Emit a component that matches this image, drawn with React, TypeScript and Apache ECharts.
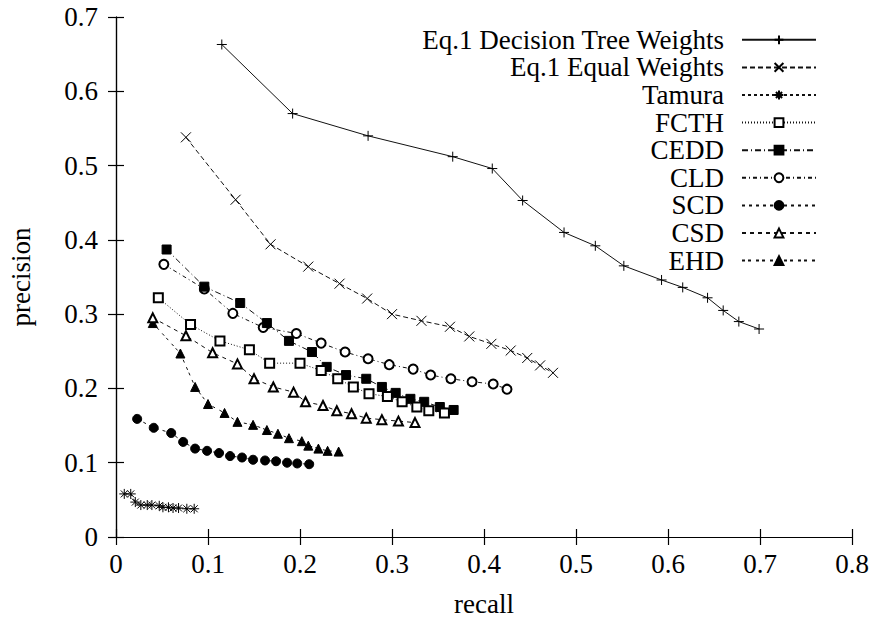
import React, { useEffect, useRef } from "react";
import * as echarts from "echarts";

const seriesNames = [
  "Eq.1 Decision Tree Weights",
  "Eq.1 Equal Weights",
  "Tamura",
  "FCTH",
  "CEDD",
  "CLD",
  "SCD",
  "CSD",
  "EHD",
];

const dtRecall = [0.115, 0.192, 0.274, 0.366, 0.409, 0.442, 0.487, 0.521, 0.552, 0.593, 0.616, 0.643, 0.66, 0.677, 0.699];
const dtPrecision = [0.663, 0.57, 0.54, 0.512, 0.496, 0.453, 0.41, 0.392, 0.365, 0.346, 0.336, 0.322, 0.305, 0.29, 0.28];

const eqRecall = [0.076, 0.13, 0.168, 0.209, 0.243, 0.273, 0.3, 0.332, 0.363, 0.384, 0.408, 0.429, 0.447, 0.461, 0.475];
const eqPrecision = [0.538, 0.454, 0.394, 0.364, 0.341, 0.321, 0.3, 0.291, 0.283, 0.27, 0.26, 0.251, 0.241, 0.231, 0.221];

const tamuraRecall = [0.009, 0.016, 0.021, 0.027, 0.034, 0.039, 0.047, 0.051, 0.057, 0.062, 0.068, 0.077, 0.085];
const tamuraPrecision = [0.058, 0.058, 0.047, 0.043, 0.043, 0.043, 0.042, 0.04, 0.04, 0.039, 0.039, 0.038, 0.038];

const fcthRecall = [0.046, 0.081, 0.113, 0.145, 0.167, 0.2, 0.223, 0.241, 0.258, 0.275, 0.295, 0.311, 0.327, 0.34, 0.357];
const fcthPrecision = [0.322, 0.286, 0.264, 0.252, 0.234, 0.234, 0.224, 0.213, 0.202, 0.193, 0.189, 0.182, 0.175, 0.17, 0.167];

const ceddRecall = [0.055, 0.096, 0.135, 0.164, 0.188, 0.213, 0.229, 0.25, 0.272, 0.289, 0.304, 0.32, 0.335, 0.352, 0.367];
const ceddPrecision = [0.387, 0.337, 0.315, 0.288, 0.264, 0.249, 0.229, 0.218, 0.213, 0.202, 0.194, 0.186, 0.182, 0.175, 0.171];

const cldRecall = [0.052, 0.096, 0.127, 0.16, 0.196, 0.223, 0.249, 0.274, 0.297, 0.323, 0.342, 0.364, 0.387, 0.41, 0.425];
const cldPrecision = [0.367, 0.334, 0.301, 0.282, 0.274, 0.261, 0.249, 0.24, 0.232, 0.226, 0.218, 0.213, 0.209, 0.206, 0.199];

const scdRecall = [0.023, 0.041, 0.06, 0.073, 0.086, 0.099, 0.112, 0.124, 0.137, 0.149, 0.162, 0.174, 0.186, 0.197, 0.21];
const scdPrecision = [0.159, 0.147, 0.14, 0.128, 0.119, 0.116, 0.113, 0.109, 0.107, 0.104, 0.103, 0.102, 0.1, 0.099, 0.098];

const csdRecall = [0.04, 0.076, 0.105, 0.132, 0.15, 0.171, 0.193, 0.206, 0.225, 0.24, 0.256, 0.272, 0.289, 0.307, 0.325];
const csdPrecision = [0.295, 0.271, 0.248, 0.233, 0.213, 0.202, 0.195, 0.182, 0.177, 0.17, 0.166, 0.16, 0.158, 0.156, 0.154];

const ehdRecall = [0.04, 0.07, 0.086, 0.1, 0.118, 0.132, 0.149, 0.164, 0.176, 0.188, 0.202, 0.209, 0.22, 0.23, 0.242];
const ehdPrecision = [0.288, 0.247, 0.202, 0.179, 0.167, 0.155, 0.151, 0.144, 0.139, 0.133, 0.129, 0.123, 0.119, 0.116, 0.115];

const xTicks = [0, 0.1, 0.2, 0.3, 0.4, 0.5, 0.6, 0.7, 0.8];
const yTicks = [0, 0.1, 0.2, 0.3, 0.4, 0.5, 0.6, 0.7];

const FONT = "Liberation Serif";
const FS = 27;

const PLUS = "path://M5,0V10M0,5H10";
const CROSS = "path://M0,0L10,10M10,0L0,10";
const STAR = "path://M5,0V10M0,5H10M1.5,1.5L8.5,8.5M8.5,1.5L1.5,8.5";

function pairs(xs: number[], ys: number[]) {
  return xs.map((x, i) => [x, ys[i]]);
}

type Spec = {
  x: number[];
  y: number[];
  symbol: string;
  size: number;
  dash: number[] | "solid";
  stroke: boolean;
};

const specs: Spec[] = [
  { x: dtRecall, y: dtPrecision, symbol: PLUS, size: 10, dash: "solid", stroke: true },
  { x: eqRecall, y: eqPrecision, symbol: CROSS, size: 10, dash: [5, 3], stroke: true },
  { x: tamuraRecall, y: tamuraPrecision, symbol: STAR, size: 10, dash: [3, 3], stroke: true },
  { x: fcthRecall, y: fcthPrecision, symbol: "emptyRect", size: 9, dash: [1, 2], stroke: false },
  { x: ceddRecall, y: ceddPrecision, symbol: "rect", size: 9, dash: [6, 3, 1, 3], stroke: false },
  { x: cldRecall, y: cldPrecision, symbol: "emptyCircle", size: 9, dash: [4, 3, 1, 3], stroke: false },
  { x: scdRecall, y: scdPrecision, symbol: "circle", size: 9, dash: [3, 4], stroke: false },
  { x: csdRecall, y: csdPrecision, symbol: "emptyTriangle", size: 9, dash: [4, 4], stroke: false },
  { x: ehdRecall, y: ehdPrecision, symbol: "triangle", size: 9, dash: [3, 3, 3, 5], stroke: false },
];

export default function App() {
  const ref = useRef<HTMLDivElement>(null);
  useEffect(() => {
    if (!ref.current) return;
    const chart = echarts.init(ref.current, undefined, { renderer: "svg" });
    const axisCommon = {
      type: "value" as const,
      splitLine: { show: false },
      axisLine: { show: true, lineStyle: { color: "#000", width: 1.2 } },
      axisTick: { show: true, inside: true, length: 8, lineStyle: { color: "#000", width: 1.2 } },
    };
    const series = specs.map((s, i) => ({
      type: "line",
      name: seriesNames[i],
      xAxisIndex: 0,
      yAxisIndex: 0,
      data: pairs(s.x, s.y),
      symbol: s.symbol,
      symbolSize: s.size,
      showAllSymbol: true,
      lineStyle: { color: "#111", width: 1, type: s.dash },
      itemStyle: s.stroke
        ? { color: "none", borderColor: "#000", borderWidth: 1 }
        : { color: "#000", borderColor: "#000", borderWidth: 1 },
      emphasis: { disabled: true },
      z: 10 - i,
    }));
    chart.setOption({
      animation: false,
      backgroundColor: "#fff",
      textStyle: { fontFamily: FONT },
      grid: {
        left: 116,
        right: 18,
        top: 17,
        bottom: 82,
        containLabel: false,
        outerBoundsMode: "none",
      },
      legend: {
        orient: "vertical",
        right: 53,
        top: 26,
        padding: 0,
        align: "right",
        itemGap: 0,
        itemWidth: 74,
        itemHeight: 11,
        selectedMode: false,
        data: seriesNames,
        textStyle: {
          fontFamily: FONT,
          fontSize: FS,
          color: "#000",
          lineHeight: 27.6,
          padding: [0, 13, 0, 0],
        },
      },
      xAxis: [
        {
          ...axisCommon,
          position: "bottom",
          min: 0,
          max: 0.8,
          interval: 0.1,
          name: "recall",
          nameLocation: "middle",
          nameGap: 54,
          nameTextStyle: { fontFamily: FONT, fontSize: FS, color: "#000", lineHeight: 26 },
          axisLabel: {
            fontFamily: FONT,
            fontSize: FS,
            color: "#000",
            margin: 13,
            formatter: (v: number) => {
              const t = xTicks.find((k) => Math.abs(k - v) < 1e-9);
              return t === undefined ? "" : String(t);
            },
          },
        },
        {
          ...axisCommon,
          position: "top",
          min: 0,
          max: 0.8,
          interval: 0.1,
          axisLabel: { show: false },
        },
      ],
      yAxis: [
        {
          ...axisCommon,
          position: "left",
          min: 0,
          max: 0.7,
          interval: 0.1,
          name: "precision",
          nameLocation: "middle",
          nameGap: 82,
          nameTextStyle: { fontFamily: FONT, fontSize: FS, color: "#000" },
          axisLabel: {
            fontFamily: FONT,
            fontSize: FS,
            color: "#000",
            margin: 18,
            formatter: (v: number) => {
              const t = yTicks.find((k) => Math.abs(k - v) < 1e-9);
              return t === undefined ? "" : String(t);
            },
          },
        },
        {
          ...axisCommon,
          position: "right",
          min: 0,
          max: 0.7,
          interval: 0.1,
          axisLabel: { show: false },
        },
      ],
      series,
    });
    return () => chart.dispose();
  }, []);
  return (
    <div
      ref={ref}
      style={{ position: "fixed", left: 0, top: 0, width: 870, height: 619, background: "#fff" }}
    />
  );
}
